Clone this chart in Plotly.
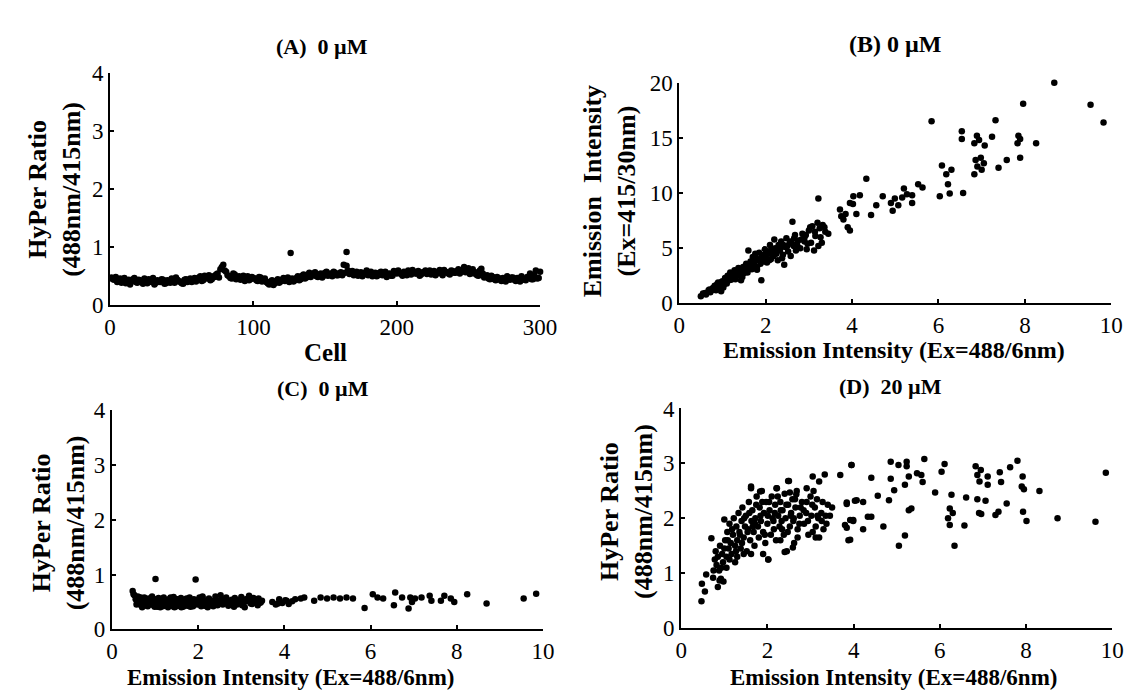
import plotly.graph_objects as go

# ---------------- DATA ----------------
# Panel A: HyPer ratio per cell (odd cells, then even cells) + two outliers
cells_a_odd = list(range(1, 300, 2))
ratio_a_odd = [
    0.48, 0.44, 0.40, 0.46, 0.42, 0.38, 0.44, 0.41, 0.47, 0.39,
    0.43, 0.37, 0.42, 0.45, 0.40, 0.36, 0.43, 0.40, 0.44, 0.38,
    0.42, 0.46, 0.39, 0.44, 0.41, 0.37, 0.45, 0.42, 0.40, 0.47,
    0.44, 0.50, 0.43, 0.47, 0.52, 0.45, 0.49, 0.55, 0.62, 0.70,
    0.58, 0.50, 0.46, 0.53, 0.48, 0.44, 0.51, 0.47, 0.43, 0.49,
    0.46, 0.42, 0.48, 0.44, 0.40, 0.36, 0.43, 0.38, 0.45, 0.41,
    0.47, 0.44, 0.40, 0.46, 0.43, 0.50, 0.45, 0.53, 0.48, 0.56,
    0.52, 0.57, 0.49, 0.55, 0.51, 0.58, 0.53, 0.50, 0.56, 0.52,
    0.57, 0.70, 0.68, 0.54, 0.59, 0.55, 0.51, 0.57, 0.53, 0.60,
    0.55, 0.50, 0.56, 0.52, 0.58, 0.54, 0.49, 0.55, 0.51, 0.57,
    0.60, 0.54, 0.58, 0.52, 0.56, 0.61, 0.55, 0.59, 0.53, 0.57,
    0.54, 0.60, 0.56, 0.52, 0.58, 0.55, 0.61, 0.57, 0.53, 0.59,
    0.56, 0.62, 0.58, 0.66, 0.60, 0.54, 0.62, 0.57, 0.51, 0.63,
    0.48, 0.52, 0.45, 0.49, 0.43, 0.47, 0.42, 0.46, 0.50, 0.44,
    0.48, 0.42, 0.46, 0.50, 0.44, 0.49, 0.55, 0.45, 0.60, 0.47,
]
cells_a_even = list(range(2, 301, 2))
ratio_a_even = [
    0.45, 0.49, 0.43, 0.39, 0.47, 0.42, 0.36, 0.45, 0.40, 0.44,
    0.40, 0.46, 0.38, 0.42, 0.47, 0.39, 0.41, 0.45, 0.37, 0.43,
    0.39, 0.44, 0.48, 0.41, 0.38, 0.44, 0.40, 0.46, 0.43, 0.41,
    0.48, 0.42, 0.51, 0.46, 0.43, 0.50, 0.53, 0.48, 0.66, 0.60,
    0.52, 0.47, 0.55, 0.45, 0.50, 0.46, 0.42, 0.50, 0.45, 0.47,
    0.43, 0.49, 0.41, 0.46, 0.38, 0.41, 0.35, 0.42, 0.39, 0.44,
    0.42, 0.48, 0.45, 0.41, 0.47, 0.43, 0.51, 0.46, 0.53, 0.49,
    0.55, 0.50, 0.53, 0.48, 0.56, 0.51, 0.55, 0.58, 0.52, 0.55,
    0.52, 0.56, 0.60, 0.57, 0.52, 0.58, 0.54, 0.50, 0.56, 0.52,
    0.58, 0.53, 0.50, 0.56, 0.52, 0.58, 0.54, 0.51, 0.59, 0.55,
    0.56, 0.51, 0.57, 0.60, 0.53, 0.58, 0.55, 0.51, 0.57, 0.60,
    0.57, 0.53, 0.59, 0.55, 0.61, 0.52, 0.58, 0.55, 0.60, 0.56,
    0.59, 0.55, 0.61, 0.57, 0.64, 0.58, 0.55, 0.52, 0.60, 0.55,
    0.50, 0.46, 0.51, 0.45, 0.49, 0.44, 0.47, 0.41, 0.45, 0.48,
    0.44, 0.47, 0.41, 0.46, 0.43, 0.48, 0.45, 0.52, 0.46, 0.58,
]
outlier_cells_a = [126, 165]
outlier_ratio_a = [0.90, 0.92]

# Panel B: emission 488 (x) vs emission 415 (y)
em488_b = [
    0.50, 0.55, 0.62, 0.68, 0.72, 0.78, 0.82, 0.85, 0.90, 0.93, 0.97, 1.00, 1.03, 1.06, 1.10,
    1.12, 1.15, 1.18, 1.22, 1.25, 1.28, 1.30, 1.33, 1.37, 1.40, 1.42, 1.46, 1.48, 1.52, 1.55,
    1.58, 1.60, 1.62, 1.65, 1.68, 1.70, 1.73, 1.76, 1.80, 1.82, 1.85, 1.88, 1.90, 1.92, 1.95,
    1.98, 2.00, 2.03, 2.06, 2.10, 2.12, 2.15, 2.18, 2.20, 2.22, 2.25, 2.28, 2.30, 2.33, 2.36,
    2.40, 2.43, 2.45, 2.48, 2.52, 2.55, 2.58, 2.62, 2.65, 2.68, 2.70, 2.75, 2.80, 2.85, 2.90,
    2.95, 3.00, 3.05, 3.08, 3.12, 3.15, 3.20, 3.22, 3.25, 3.30, 3.32, 3.38, 3.45, 3.22, 2.00,
    1.75, 1.55, 1.35, 1.15, 0.95, 0.75, 2.35, 2.15, 2.60, 2.90,
    3.72, 3.80, 3.90, 4.02, 3.85, 3.95, 3.75,
    8.68, 7.96, 7.32, 5.84, 6.54, 6.54, 6.89, 6.83, 6.94, 7.07, 7.24, 7.85, 7.89, 7.83, 8.26,
    7.89, 7.58, 7.39, 6.86, 6.98, 7.05, 6.90, 6.83, 7.00, 6.08, 6.30, 6.18, 6.22, 6.26, 6.03,
    6.57, 4.33, 5.53, 5.63, 5.20, 5.27, 5.16, 5.39, 4.99, 4.90, 5.07, 4.94, 4.71, 4.56, 4.18,
    4.03, 3.95, 4.10, 4.44, 5.39, 9.52, 9.82,
]
em415_b = [
    0.65, 0.90, 0.80, 1.20, 1.00, 1.40, 1.60, 1.20, 1.90, 1.50, 1.10, 2.00, 1.70, 2.30, 1.80,
    2.50, 2.10, 2.80, 2.30, 2.60, 3.00, 2.20, 2.70, 3.20, 2.50, 2.90, 2.40, 3.30, 3.00, 3.60,
    2.80, 4.80, 3.30, 3.80, 3.10, 4.20, 3.50, 4.50, 3.30, 3.90, 4.60, 3.60, 2.10, 4.30, 3.80,
    4.90, 4.10, 3.70, 4.50, 5.30, 4.00, 4.70, 4.30, 5.80, 5.00, 4.50, 3.90, 5.30, 4.80, 5.60,
    4.40, 3.50, 5.10, 5.90, 4.70, 5.40, 4.30, 7.40, 5.20, 6.20, 4.80, 5.70, 5.00, 6.30, 5.60,
    4.90, 6.60, 5.50, 7.00, 4.80, 6.10, 7.30, 5.20, 6.80, 5.50, 7.10, 6.50, 6.30, 9.50, 4.40,
    3.90, 3.30, 2.90, 2.40, 1.70, 1.20, 5.10, 4.40, 5.50, 6.00,
    8.50, 7.60, 6.90, 9.00, 8.10, 6.60, 7.90,
    20.0, 18.1, 16.6, 16.5, 15.6, 14.9, 15.2, 14.5, 14.8, 14.3, 15.1, 15.2, 14.9, 14.5, 14.5,
    13.2, 13.0, 12.3, 13.0, 13.2, 12.7, 12.4, 11.7, 12.1, 12.5, 12.1, 11.7, 10.8, 9.96, 9.70,
    10.0, 11.3, 10.8, 10.5, 10.4, 9.90, 9.60, 9.80, 9.50, 9.10, 8.90, 8.40, 9.70, 8.90, 9.80,
    9.70, 9.10, 8.10, 8.00, 9.10, 18.0, 16.4,
]
em488_b2 = [
    0.60, 0.70, 0.80, 0.88, 0.98, 1.08, 1.17, 1.27, 1.36, 1.45,
    1.53, 1.63, 1.72, 1.78, 1.87, 1.96, 2.04, 2.13, 2.24, 2.32,
    2.41, 2.50, 2.57, 2.66, 2.73, 2.83, 2.93, 3.03, 3.14, 3.27,
    1.20, 1.50, 1.80, 2.08, 2.38, 2.70, 2.97, 3.36, 1.02, 1.43,
]
em415_b2 = [
    0.95, 1.25, 1.35, 1.75, 1.95, 2.05, 2.45, 2.55, 3.00, 3.05,
    3.40, 3.55, 3.70, 4.10, 4.00, 4.40, 4.70, 4.90, 4.80, 5.10,
    5.30, 5.20, 5.60, 5.90, 5.30, 5.80, 6.20, 6.90, 6.50, 6.00,
    2.15, 2.75, 3.05, 3.90, 4.10, 5.30, 5.40, 6.90, 1.45, 2.10,
]

# Panel C: emission 488 (x) vs HyPer ratio (y), 0 uM
em488_c = [
    0.48, 0.52, 0.55, 0.58, 0.60, 0.63, 0.65, 0.68, 0.70, 0.72, 0.75, 0.78, 0.80, 0.83, 0.85,
    0.88, 0.90, 0.93, 0.95, 0.98, 1.00, 1.03, 1.05, 1.08, 1.10, 1.13, 1.15, 1.18, 1.20, 1.23,
    1.25, 1.28, 1.30, 1.33, 1.35, 1.38, 1.40, 1.43, 1.45, 1.48, 1.50, 1.53, 1.55, 1.58, 1.60,
    1.63, 1.65, 1.68, 1.70, 1.73, 1.75, 1.78, 1.80, 1.83, 1.85, 1.88, 1.90, 1.93, 1.95, 1.98,
    2.00, 2.05, 2.10, 2.15, 2.20, 2.25, 2.30, 2.35, 2.40, 2.45, 2.50, 2.55, 2.60, 2.65, 2.70,
    2.75, 2.80, 2.85, 2.90, 2.95, 3.00, 3.05, 3.10, 3.15, 3.20, 3.25, 3.30, 3.35, 3.40, 3.45,
    0.62, 0.95, 1.20, 1.45, 1.70, 2.10, 2.35, 2.62, 3.08, 3.28,
    3.72, 3.80, 3.88, 3.95, 4.02, 4.10, 4.18, 4.25, 3.85, 4.05,
    1.01, 1.94,
    4.38, 4.46, 4.69, 4.84, 4.99, 5.14, 5.29, 5.44, 5.59, 5.86, 6.05, 6.16, 6.29, 6.57, 6.54,
    6.92, 6.88, 7.03, 6.96, 7.18, 7.37, 7.41, 7.71, 7.86, 7.94, 8.24, 8.69, 7.63, 6.73, 9.55,
    9.84,
]
ratio_c = [
    0.70, 0.62, 0.55, 0.48, 0.60, 0.52, 0.45, 0.57, 0.50, 0.44, 0.58, 0.47, 0.53, 0.42, 0.56,
    0.49, 0.45, 0.60, 0.51, 0.43, 0.55, 0.48, 0.41, 0.57, 0.50, 0.46, 0.53, 0.42, 0.58, 0.49,
    0.45, 0.54, 0.40, 0.51, 0.56, 0.44, 0.49, 0.59, 0.46, 0.52, 0.42, 0.55, 0.48, 0.44, 0.57,
    0.50, 0.41, 0.53, 0.47, 0.56, 0.43, 0.51, 0.58, 0.46, 0.50, 0.42, 0.55, 0.48, 0.52, 0.45,
    0.54, 0.47, 0.58, 0.43, 0.51, 0.56, 0.46, 0.52, 0.60, 0.44, 0.50, 0.55, 0.47, 0.58, 0.43,
    0.52, 0.49, 0.57, 0.45, 0.53, 0.59, 0.48, 0.55, 0.51, 0.58, 0.46, 0.54, 0.50, 0.56, 0.49,
    0.58, 0.52, 0.47, 0.40, 0.44, 0.60, 0.42, 0.54, 0.40, 0.57,
    0.50, 0.45, 0.55, 0.48, 0.53, 0.46, 0.51, 0.55, 0.47, 0.52,
    0.92, 0.91,
    0.56, 0.58, 0.52, 0.58, 0.56, 0.58, 0.56, 0.58, 0.56, 0.39, 0.64, 0.58, 0.56, 0.67, 0.44,
    0.58, 0.38, 0.56, 0.50, 0.58, 0.61, 0.52, 0.61, 0.56, 0.50, 0.64, 0.47, 0.52, 0.58, 0.56,
    0.65,
]
em488_c2 = [
    0.50, 0.57, 0.66, 0.74, 0.82, 0.91, 0.99, 1.07, 1.16, 1.24,
    1.32, 1.41, 1.49, 1.57, 1.66, 1.74, 1.82, 1.91, 1.99, 2.07,
    2.12, 2.18, 2.27, 2.32, 2.42, 2.48, 2.57, 2.63, 2.72, 2.78,
    2.87, 2.93, 3.02, 3.13, 3.22, 3.32, 3.42, 3.48,
    0.70, 0.88, 1.12, 1.36, 1.61, 1.86, 2.03, 2.22, 2.52, 2.83, 3.18, 3.38,
]
ratio_c2 = [
    0.64, 0.45, 0.58, 0.43, 0.51, 0.47, 0.41, 0.54, 0.45, 0.52,
    0.47, 0.42, 0.55, 0.50, 0.44, 0.48, 0.41, 0.52, 0.47, 0.42,
    0.53, 0.48, 0.44, 0.50, 0.46, 0.52, 0.45, 0.51, 0.47, 0.54,
    0.46, 0.50, 0.44, 0.52, 0.47, 0.54, 0.48, 0.52,
    0.40, 0.55, 0.40, 0.58, 0.40, 0.43, 0.58, 0.40, 0.62, 0.41, 0.61, 0.44,
]

# Panel D: emission 488 (x) vs HyPer ratio (y), 20 uM
em488_d = [
    0.47, 0.48, 0.55, 0.58, 0.70, 0.74, 0.89, 0.85,
    0.75, 0.78, 0.80, 0.82, 0.85, 0.88, 0.90, 0.92, 0.95, 0.97, 1.00, 1.00, 1.02, 1.05, 1.07,
    1.10, 1.12, 1.15, 1.17, 1.20, 1.22, 1.25, 1.28, 1.30, 1.33, 1.35, 1.38, 1.40, 1.42, 1.45,
    1.48, 1.50, 1.52, 1.55, 1.57, 1.60, 1.62, 1.63, 1.65, 1.68, 1.70, 1.72, 1.75, 1.78, 1.80,
    1.82, 1.85, 1.87, 1.90, 1.92, 1.95, 1.97, 2.00, 2.02, 2.05, 2.08, 2.10, 2.12, 2.15, 2.18,
    2.20, 2.22, 2.25, 2.28, 2.30, 2.33, 2.35, 2.38, 2.40, 2.42, 2.45, 2.48, 2.50, 2.52, 2.55,
    2.58, 2.60, 2.62, 2.65, 2.68, 2.70, 2.75, 2.80, 2.85, 2.90, 2.95, 3.00, 3.02, 3.05, 3.10,
    3.12, 3.15, 3.18, 3.20, 3.25, 3.28, 3.30, 3.35, 3.40, 3.45, 3.50, 1.30, 1.45, 1.62, 1.90,
    1.25, 1.05, 2.30, 2.70, 0.98,
    1.62, 1.83, 2.21, 2.48, 2.52, 2.67, 2.91, 3.05, 3.20, 3.33, 3.69, 3.95,
    2.02, 2.40, 2.59, 3.12, 3.92, 3.84, 4.03, 3.80, 3.99,
    3.95, 4.86, 5.04, 5.23, 5.23, 5.64, 6.11, 6.04, 4.41, 4.86, 5.28, 5.47, 5.57, 5.60, 5.19,
    4.94, 4.56, 4.82, 4.07, 4.22, 5.89, 6.27, 6.61, 6.87, 7.06, 7.55, 5.34, 5.28, 6.23, 6.30,
    6.19, 6.23, 6.57, 6.91, 6.96, 7.29, 7.36, 7.93, 8.01, 8.73, 8.31, 6.83, 6.87, 6.95, 6.92,
    7.11, 7.11, 7.39, 7.42, 7.63, 7.80, 7.92, 7.90, 7.95, 4.41, 4.33, 4.69, 5.19, 5.05, 6.34,
    4.22, 3.92, 3.99, 3.88, 3.84, 3.84, 9.61, 9.85,
]
ratio_d = [
    0.49, 0.81, 0.67, 0.98, 1.64, 0.92, 0.87, 0.75,
    1.05, 1.25, 1.40, 1.15, 1.30, 1.05, 1.50, 0.90, 1.35, 1.20, 1.45, 1.98, 1.60, 1.30, 1.75,
    1.45, 1.90, 1.55, 1.35, 1.70, 2.00, 1.50, 1.85, 1.60, 2.10, 1.75, 1.45, 1.95, 2.20, 1.65,
    1.85, 2.05, 1.40, 1.80, 2.30, 1.60, 2.55, 1.95, 2.15, 1.75, 1.50, 2.00, 2.40, 1.85, 1.65,
    2.20, 1.95, 2.50, 1.75, 2.10, 1.55, 2.30, 1.90, 1.25, 2.15, 1.70, 2.40, 2.00, 1.80, 2.25,
    1.60, 2.55, 2.05, 1.85, 2.30, 1.95, 2.15, 1.70, 2.45, 2.00, 1.40, 2.25, 2.68, 1.85, 2.10,
    2.35, 1.95, 1.55, 2.20, 2.50, 1.80, 2.05, 2.30, 1.90, 2.10, 1.70, 2.40, 2.05, 1.75, 2.20,
    1.85, 2.35, 2.00, 1.65, 2.10, 2.30, 1.80, 2.05, 2.25, 2.05, 2.20, 1.30, 1.35, 1.35, 1.35,
    1.20, 1.10, 1.60, 1.65, 0.85,
    2.58, 2.49, 2.55, 2.68, 2.47, 2.44, 2.55, 2.76, 2.67, 2.80, 2.79, 2.97,
    1.25, 1.39, 1.47, 1.65, 1.61, 2.29, 2.32, 1.88, 1.97,
    2.97, 3.03, 2.97, 3.03, 2.95, 3.08, 2.99, 2.85, 2.74, 2.72, 2.76, 2.82, 2.79, 2.66, 2.61,
    2.51, 2.41, 2.33, 2.33, 2.30, 2.47, 2.43, 2.38, 2.35, 2.32, 2.27, 2.18, 2.15, 2.18, 2.10,
    2.00, 1.88, 1.87, 2.10, 2.08, 2.06, 2.12, 2.12, 1.95, 2.00, 2.50, 2.95, 2.79, 2.88, 2.67,
    2.76, 2.61, 2.84, 2.66, 2.93, 3.05, 2.76, 2.58, 2.53, 2.03, 2.03, 1.85, 1.69, 1.50, 1.50,
    1.80, 1.97, 1.95, 1.60, 1.83, 2.26, 1.94, 2.83,
]
em488_d2 = [
    1.08, 1.18, 1.27, 1.36, 1.46, 1.54, 1.66, 1.74, 1.84, 1.94,
    2.04, 2.14, 2.24, 2.34, 2.44, 2.54, 2.64, 2.74, 2.84, 2.94,
    3.04, 3.16, 3.26,
    1.12, 1.41, 1.71, 2.01, 2.31, 2.61, 2.91,
    0.93, 1.58, 1.88, 2.17, 2.47, 2.77, 3.07, 3.37,
]
ratio_d2 = [
    1.60, 1.80, 1.40, 1.70, 2.00, 1.75, 1.85, 2.25, 2.05, 1.70,
    2.30, 1.95, 2.40, 1.80, 2.25, 2.05, 2.35, 1.90, 2.15, 1.95,
    2.25, 2.05, 1.95,
    1.25, 1.55, 1.90, 2.05, 2.15, 2.00, 2.30,
    1.10, 2.10, 2.30, 2.10, 1.75, 2.20, 2.50, 1.90,
]

titles = ["(A)  0 \u00b5M", "(B) 0 \u00b5M", "(C)  0 \u00b5M", "(D)  20 \u00b5M"]
ratio_title = "HyPer Ratio<br>(488nm/415nm)"
em415_title = "Emission  Intensity<br>(Ex=415/30nm)"
em488_title = "Emission Intensity (Ex=488/6nm)"
cell_title = "Cell"

# ---------------- FIGURE ----------------
W, H = 1135, 694


def px(x):
    return x / W


def py(y):
    return 1 - y / H


FONT = "Liberation Serif, Times New Roman, serif"
fig = go.Figure()

mk = dict(color="black", size=6.5, symbol="circle", line=dict(width=0))


def scatter(x, y, ax):
    fig.add_trace(go.Scatter(x=x, y=y, mode="markers", marker=mk, cliponaxis=False,
                             xaxis="x" + ax, yaxis="y" + ax, hoverinfo="x+y"))


scatter(cells_a_odd, ratio_a_odd, "")
scatter(cells_a_even, ratio_a_even, "")
scatter(outlier_cells_a, outlier_ratio_a, "")
scatter(em488_b, em415_b, "2")
scatter(em488_b2, em415_b2, "2")
scatter(em488_c, ratio_c, "3")
scatter(em488_c2, ratio_c2, "3")
scatter(em488_d, ratio_d, "4")
scatter(em488_d2, ratio_d2, "4")

axis_common = dict(
    showline=True, linecolor="black", linewidth=2, ticks="inside", ticklen=4,
    tickwidth=1.5, tickcolor="black", showgrid=False, zeroline=False, mirror=False,
    tickfont=dict(family=FONT, size=23, color="black"),
)

# pixel boxes: (left, right, top, bottom)
boxA = (98, 537, 55, 296)
boxB = (679, 1120, 65, 294)
boxC = (100, 540, 405, 632)
boxD = (681, 1121, 403, 631)

fig.update_layout(
    width=W, height=H, margin=dict(l=0, r=0, t=0, b=0),
    paper_bgcolor="white", plot_bgcolor="white", showlegend=False,
    xaxis=dict(axis_common, domain=[px(boxA[0]), px(boxA[1])], range=[0, 300], tickvals=[0, 100, 200, 300], anchor="y"),
    yaxis=dict(axis_common, domain=[py(boxA[3]), py(boxA[2])], range=[0, 4], tickvals=[0, 1, 2, 3, 4], anchor="x"),
    xaxis2=dict(axis_common, domain=[px(boxB[0]), px(boxB[1])], range=[0, 10], tickvals=[0, 2, 4, 6, 8, 10], anchor="y2"),
    yaxis2=dict(axis_common, domain=[py(boxB[3]), py(boxB[2])], range=[0, 20], tickvals=[0, 5, 10, 15, 20], anchor="x2"),
    xaxis3=dict(axis_common, domain=[px(boxC[0]), px(boxC[1])], range=[0, 10], tickvals=[0, 2, 4, 6, 8, 10], anchor="y3"),
    yaxis3=dict(axis_common, domain=[py(boxC[3]), py(boxC[2])], range=[0, 4], tickvals=[0, 1, 2, 3, 4], anchor="x3"),
    xaxis4=dict(axis_common, domain=[px(boxD[0]), px(boxD[1])], range=[0, 10], tickvals=[0, 2, 4, 6, 8, 10], anchor="y4"),
    yaxis4=dict(axis_common, domain=[py(boxD[3]), py(boxD[2])], range=[0, 4], tickvals=[0, 1, 2, 3, 4], anchor="x4"),
)

ann = []


def add_text(text, x, y, size, angle=0):
    ann.append(dict(
        text=text, x=px(x), y=py(y), xref="paper", yref="paper",
        xanchor="center", yanchor="middle", showarrow=False, textangle=angle,
        font=dict(family=FONT, size=size, color="black"),
    ))


# panel titles
add_text("<b>" + titles[0] + "</b>", 314, 27, 22)
add_text("<b>" + titles[1] + "</b>", 899, 25, 24)
add_text("<b>" + titles[2] + "</b>", 315, 382, 22)
add_text("<b>" + titles[3] + "</b>", 895, 380, 22)
# x-axis titles
add_text("<b>" + cell_title + "</b>", 318, 345, 25)
add_text("<b>" + em488_title + "</b>", 898, 342, 24)
add_text("<b>" + em488_title + "</b>", 282, 682, 23)
add_text("<b>" + em488_title + "</b>", 898, 682, 23)
# y-axis titles
add_text("<b>" + ratio_title + "</b>", 42, 176, 26, -90)
add_text("<b>" + em415_title + "</b>", 608, 178, 26, -90)
add_text("<b>" + ratio_title + "</b>", 45, 522, 26, -90)
add_text("<b>" + ratio_title + "</b>", 625, 510, 26, -90)

fig.update_layout(annotations=ann)
fig.write_html("out.html")
